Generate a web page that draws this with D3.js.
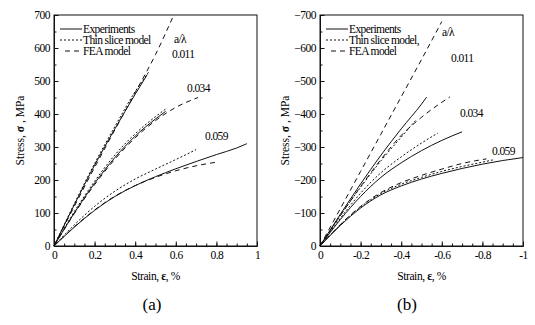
<!DOCTYPE html>
<html>
<head>
<meta charset="utf-8">
<script src="https://cdn.jsdelivr.net/npm/d3@7"></script>
<style>
  body { margin: 0; background: #fff; }
  svg text { font-family: "Liberation Serif", "Times New Roman", "DejaVu Serif", serif; fill: #000; }
</style>
</head>
<body>
<svg id="chart"></svg>
<script>
const width = 535, height = 325;

// Tick labels
const xTicksA = [0, 0.2, 0.4, 0.6, 0.8, 1];
const yTicksA = [0, 100, 200, 300, 400, 500, 600, 700];
const xTicksB = [0, -0.2, -0.4, -0.6, -0.8, -1];
const yTicksB = [0, -100, -200, -300, -400, -500, -600, -700];
const ratios = ["0.011", "0.034", "0.059"];

// (a) tension, [strain %, stress MPa]
const expA_011 = [[0,0],[0.1,125],[0.2,245],[0.3,355],[0.4,460],[0.46,520]];
const thinA_011 = [[0,0],[0.1,128],[0.2,250],[0.3,362],[0.4,468],[0.47,530]];
const feaA_011 = [[0,0],[0.1,120],[0.2,238],[0.3,352],[0.4,465],[0.5,580],[0.59,700]];
const expA_034 = [[0,0],[0.1,100],[0.2,190],[0.3,268],[0.4,333],[0.5,385],[0.55,408]];
const thinA_034 = [[0,0],[0.1,104],[0.2,196],[0.3,276],[0.4,340],[0.5,392],[0.55,415]];
const feaA_034 = [[0,0],[0.1,98],[0.2,186],[0.3,263],[0.4,328],[0.5,380],[0.6,420],[0.71,450]];
const expA_059 = [[0,0],[0.1,57],[0.2,108],[0.3,150],[0.4,183],[0.5,210],[0.6,234],[0.7,256],[0.8,277],[0.9,297],[0.95,310]];
const thinA_059 = [[0,0],[0.1,64],[0.2,120],[0.3,166],[0.4,203],[0.5,233],[0.6,262],[0.7,292]];
const feaA_059 = [[0,0],[0.1,58],[0.2,109],[0.3,151],[0.4,183],[0.5,208],[0.6,228],[0.7,243],[0.81,255]];

// (b) compression
const expB_011 = [[0,0],[-0.1,-96],[-0.2,-188],[-0.3,-275],[-0.4,-355],[-0.5,-430],[-0.525,-451]];
const thinB_011 = [[0,0],[-0.1,-92],[-0.2,-178],[-0.3,-258],[-0.4,-330],[-0.47,-380]];
const feaB_011 = [[0,0],[-0.1,-113],[-0.2,-226],[-0.3,-339],[-0.4,-452],[-0.5,-565],[-0.6,-680]];
const expB_034 = [[0,0],[-0.1,-80],[-0.2,-150],[-0.3,-208],[-0.4,-252],[-0.5,-289],[-0.6,-320],[-0.7,-346]];
const thinB_034 = [[0,0],[-0.1,-84],[-0.2,-160],[-0.3,-222],[-0.4,-270],[-0.5,-312],[-0.58,-342]];
const feaB_034 = [[0,0],[-0.1,-92],[-0.2,-180],[-0.3,-262],[-0.4,-335],[-0.5,-390],[-0.64,-452]];
const expB_059 = [[0,0],[-0.1,-62],[-0.2,-115],[-0.3,-155],[-0.4,-182],[-0.5,-203],[-0.6,-220],[-0.7,-235],[-0.8,-248],[-0.9,-259],[-1,-268]];
const thinB_059 = [[0,0],[-0.1,-64],[-0.2,-118],[-0.3,-159],[-0.4,-187],[-0.5,-208],[-0.6,-226],[-0.7,-241],[-0.8,-254],[-0.86,-262]];
const feaB_059 = [[0,0],[-0.1,-65],[-0.2,-120],[-0.3,-162],[-0.4,-192],[-0.5,-214],[-0.6,-233],[-0.7,-250],[-0.82,-264]];

const styles = {
  exp: null,
  thin: "2,2",
  fea: "5,4"
};

const panels = [
  {
    left: 54, right: 257, xDomain: [0, 1], yDomain: [0, 700],
    xTicks: xTicksA, yTicks: yTicksA, xFmt: d => d === 0 || d === 1 ? d : d.toFixed(1),
    series: [
      ["exp", expA_011], ["thin", thinA_011], ["fea", feaA_011],
      ["exp", expA_034], ["thin", thinA_034], ["fea", feaA_034],
      ["exp", expA_059], ["thin", thinA_059], ["fea", feaA_059]
    ],
    legend: ["Experiments", "Thin slice model", "FEA model"],
    labels: [["a/\u03bb", 174, 43], [ratios[0], 172, 58], [ratios[1], 187, 92], [ratios[2], 205, 140]],
    caption: "(a)", captionX: 152,
    xTitle: "Strain, ", yTitleX: 24
  },
  {
    left: 320, right: 523, xDomain: [0, -1], yDomain: [0, -700],
    xTicks: xTicksB, yTicks: yTicksB, xFmt: d => d === 0 || d === -1 ? d : d.toFixed(1),
    series: [
      ["exp", expB_011], ["thin", thinB_011], ["fea", feaB_011],
      ["exp", expB_034], ["thin", thinB_034], ["fea", feaB_034],
      ["exp", expB_059], ["thin", thinB_059], ["fea", feaB_059]
    ],
    legend: ["Experiments", "Thin slice model,", "FEA model"],
    labels: [["a/\u03bb", 442, 36], [ratios[0], 451, 62], [ratios[1], 460, 117], [ratios[2], 492, 155]],
    caption: "(b)", captionX: 407,
    xTitle: "Strain, ", yTitleX: 289
  }
];

const plotTop = 15, plotBottom = 246;

const svg = d3.select("#chart")
  .attr("width", width)
  .attr("height", height);

panels.forEach(function(p) {
  const x = d3.scaleLinear().domain(p.xDomain).range([p.left, p.right]);
  const y = d3.scaleLinear().domain(p.yDomain).range([plotBottom, plotTop]);
  const g = svg.append("g");

  // minor ticks
  const minorX = d3.range(0, 21).map(i => p.xDomain[1] * i / 20);
  const minorY = d3.range(0, 15).map(i => p.yDomain[1] * i / 14);

  g.append("g")
    .attr("transform", `translate(0,${plotBottom})`)
    .call(d3.axisBottom(x).tickValues(minorX).tickFormat("").tickSize(-2.5).tickSizeOuter(0));
  g.append("g")
    .attr("transform", `translate(${p.left},0)`)
    .call(d3.axisLeft(y).tickValues(minorY).tickFormat("").tickSize(-2.5).tickSizeOuter(0));

  // major axes
  g.append("g")
    .attr("transform", `translate(0,${plotBottom})`)
    .call(d3.axisBottom(x).tickValues(p.xTicks).tickFormat(p.xFmt).tickSize(-4.5).tickSizeOuter(0).tickPadding(5));
  g.append("g")
    .attr("transform", `translate(${p.left},0)`)
    .call(d3.axisLeft(y).tickValues(p.yTicks).tickSize(-4.5).tickSizeOuter(0).tickPadding(4));

  g.selectAll("g").attr("font-family", null);
  g.selectAll(".tick text").style("font-size", "11.5px").style("letter-spacing", "-0.5px");
  g.selectAll(".domain, .tick line").attr("stroke", "#111");

  // frame
  g.append("rect")
    .attr("x", p.left).attr("y", plotTop)
    .attr("width", p.right - p.left).attr("height", plotBottom - plotTop)
    .attr("fill", "none").attr("stroke", "#111").attr("stroke-width", 1);

  // curves
  const line = d3.line().x(d => x(d[0])).y(d => y(d[1])).curve(d3.curveMonotoneX);
  g.selectAll(".curve")
    .data(p.series)
    .enter().append("path")
    .attr("class", "curve")
    .attr("d", d => line(d[1]))
    .attr("fill", "none")
    .attr("stroke", "#111")
    .attr("stroke-width", 1)
    .attr("stroke-dasharray", d => styles[d[0]]);

  // legend
  const keys = ["exp", "thin", "fea"];
  const legY = [29, 40, 51];
  keys.forEach(function(k, i) {
    g.append("line")
      .attr("x1", p.left + (k === "fea" ? 11 : 6)).attr("x2", p.left + 28)
      .attr("y1", legY[i]).attr("y2", legY[i])
      .attr("stroke", "#111").attr("stroke-width", 1)
      .attr("stroke-dasharray", styles[k]);
    g.append("text")
      .attr("x", p.left + 29).attr("y", legY[i] + 4)
      .style("font-size", "11.5px")
      .style("letter-spacing", "-0.6px")
      .text(p.legend[i]);
  });

  // curve labels
  g.selectAll(".lab")
    .data(p.labels)
    .enter().append("text")
    .attr("x", d => d[1]).attr("y", d => d[2])
    .style("font-size", "11.5px")
    .style("letter-spacing", "-0.6px")
    .text(d => d[0]);

  // axis titles
  const xt = g.append("text")
    .attr("x", (p.left + p.right) / 2)
    .attr("y", 280)
    .attr("text-anchor", "middle")
    .style("font-size", "11.5px")
    .style("letter-spacing", "-0.4px");
  xt.append("tspan").text(p.xTitle);
  xt.append("tspan").style("font-weight", "bold").text("\u03b5");
  xt.append("tspan").text(", %");

  const yt = g.append("text")
    .attr("transform", `translate(${p.yTitleX},${(plotTop + plotBottom) / 2}) rotate(-90)`)
    .attr("text-anchor", "middle")
    .style("font-size", "11.5px");
  yt.append("tspan").text("Stress, ");
  yt.append("tspan").style("font-weight", "bold").text("\u03c3");
  yt.append("tspan").text(" , MPa");

  // caption
  g.append("text")
    .attr("x", p.captionX).attr("y", 310)
    .attr("text-anchor", "middle")
    .style("font-size", "17px")
    .text(p.caption);
});
</script>
</body>
</html>
